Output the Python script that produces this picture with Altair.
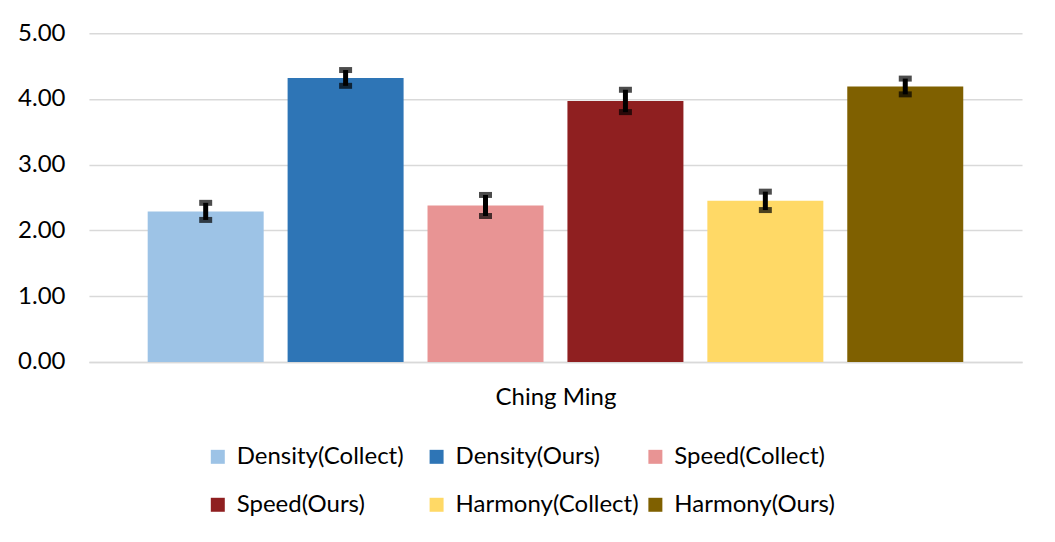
import altair as alt
import pandas as pd

series = ["Density(Collect)", "Density(Ours)", "Speed(Collect)",
          "Speed(Ours)", "Harmony(Collect)", "Harmony(Ours)"]
values = [2.29, 4.32, 2.38, 3.97, 2.45, 4.19]
errors = [0.13, 0.12, 0.16, 0.17, 0.14, 0.12]
colors = ["#9DC3E6", "#2E75B6", "#E89494", "#8F1F20", "#FFD966", "#7F6000"]
y_ticks = [0, 1, 2, 3, 4, 5]
group = "Ching Ming"

df = pd.DataFrame({"series": series, "value": values, "err": errors})
df["lo"] = df["value"] - df["err"]
df["hi"] = df["value"] + df["err"]

FONT = "Lato"
FS = 24

xenc = alt.X(
    "series:N", sort=series,
    scale=alt.Scale(paddingInner=0.171, paddingOuter=0.42),
    axis=alt.Axis(title=group, labels=False, ticks=False,
                  domainColor="#d9d9d9", domainWidth=1.5,
                  titleFontSize=FS, titleFont=FONT, titleFontWeight="normal",
                  titleColor="#000000", titlePadding=24),
)
yscale = alt.Scale(domain=[0, 5], nice=False)
yaxis = alt.Axis(values=y_ticks, format=".2f", domain=False, ticks=False,
                 gridColor="#d9d9d9", gridWidth=1.5, labelPadding=24,
                 labelFontSize=FS, labelFont=FONT, labelColor="#000000",
                 title=None)

base = alt.Chart(df)

bars = base.mark_bar().encode(
    x=xenc,
    y=alt.Y("value:Q", scale=yscale, axis=yaxis),
    color=alt.Color(
        "series:N",
        scale=alt.Scale(domain=series, range=colors),
        sort=series,
        legend=alt.Legend(
            orient="none", legendX=117, legendY=412, columns=3,
            direction="horizontal", gridAlign="all", title=None,
            symbolType="square", symbolSize=196, symbolStrokeWidth=0,
            labelFontSize=FS, labelFont=FONT, labelColor="#000000",
            labelLimit=400, rowPadding=24, columnPadding=4,
            symbolOffset=0, labelOffset=7, padding=0,
        ),
    ),
)

stems = base.mark_rule(color="black", strokeWidth=5).encode(
    x=xenc,
    y=alt.Y("lo:Q", scale=yscale, axis=yaxis),
    y2="hi:Q",
)
cap_lo = base.mark_tick(color="black", size=13, thickness=6).encode(
    x=xenc,
    y=alt.Y("lo:Q", scale=yscale, axis=yaxis),
)
cap_hi = base.mark_tick(color="black", size=13, thickness=6).encode(
    x=xenc,
    y=alt.Y("hi:Q", scale=yscale, axis=yaxis),
)

chart = alt.layer(bars, stems, cap_lo, cap_hi).properties(
    width=934, height=329,
    autosize=alt.AutoSizeParams(type="none"),
    padding={"left": 81, "top": 25, "right": 25, "bottom": 180},
    background="white",
).configure_view(stroke=None)

chart.save("out.html", embed_options={"renderer": "svg", "actions": False})
